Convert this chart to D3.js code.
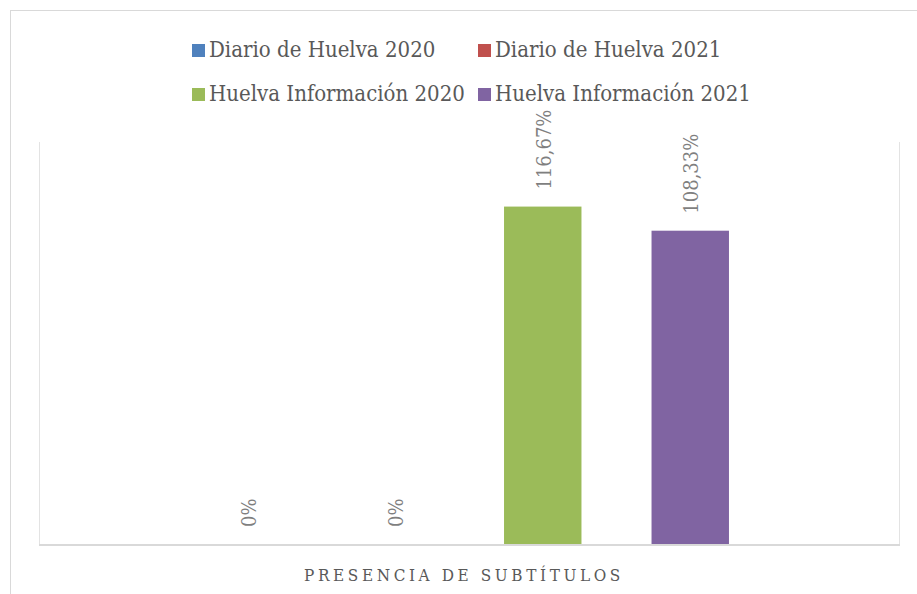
<!DOCTYPE html>
<html>
<head>
<meta charset="utf-8">
<script src="https://cdn.jsdelivr.net/npm/d3@7"></script>
<style>
  body { margin: 0; background: #fff; }
  text { font-family: "DejaVu Serif Condensed", "DejaVu Serif", serif; }
</style>
</head>
<body>
<div id="vis"></div>
<script>
var category = "PRESENCIA DE SUBTÍTULOS";
var series = ["Diario de Huelva 2020", "Diario de Huelva 2021", "Huelva Información 2020", "Huelva Información 2021"];
var values = [0, 0, 116.67, 108.33];
var labels = ["0%", "0%", "116,67%", "108,33%"];
var colors = ["#4F81BD", "#C0504D", "#9BBB59", "#8064A2"];

var width = 917, height = 594;
var margin = {top: 142, right: 18, bottom: 50, left: 39};

var svg = d3.select("#vis")
    .append("svg")
    .attr("width", width)
    .attr("height", height);

// outer chart frame
svg.append("rect")
    .attr("x", 10.5).attr("y", 10.5)
    .attr("width", width).attr("height", height)
    .attr("fill", "none")
    .attr("stroke", "#d9d9d9");

var x0 = d3.scaleBand()
    .domain([category])
    .range([margin.left, width - margin.right]);

var x1 = d3.scaleBand()
    .domain(series)
    .range([x0(category) + 135, x0(category) + x0.bandwidth() - 135])
    .paddingInner(0.475)
    .paddingOuter(0.2375);

var y = d3.scaleLinear()
    .domain([0, 139])
    .range([height - margin.bottom, margin.top]);

// plot frame
var g = svg.append("g");
g.append("line")
    .attr("x1", margin.left + 0.5).attr("x2", margin.left + 0.5)
    .attr("y1", margin.top).attr("y2", y(0))
    .attr("stroke", "#e3e3e3");
g.append("line")
    .attr("x1", width - margin.right + 0.5).attr("x2", width - margin.right + 0.5)
    .attr("y1", margin.top).attr("y2", y(0))
    .attr("stroke", "#e3e3e3");

g.selectAll("rect.bar")
    .data(values)
    .enter()
    .append("rect")
    .attr("class", "bar")
    .attr("x", function (d, i) { return x1(series[i]); })
    .attr("width", x1.bandwidth())
    .attr("y", function (d) { return y(d); })
    .attr("height", function (d) { return y(0) - y(d); })
    .attr("fill", function (d, i) { return colors[i]; });

// x axis line
g.append("line")
    .attr("x1", margin.left).attr("x2", width - margin.right + 1)
    .attr("y1", y(0) + 1).attr("y2", y(0) + 1)
    .attr("stroke", "#d9d9d9")
    .attr("stroke-width", 2);

// data labels, rotated
g.selectAll("text.lbl")
    .data(values)
    .enter()
    .append("text")
    .attr("class", "lbl")
    .attr("transform", function (d, i) {
        var cx = x1(series[i]) + x1.bandwidth() / 2 + 8;
        return "translate(" + cx + "," + (y(d) - 17) + ") rotate(-90)";
    })
    .attr("font-size", 20)
    .attr("fill", "#7f7f7f")
    .text(function (d, i) { return labels[i]; });

// category title
svg.append("text")
    .attr("x", x0(category) + x0.bandwidth() / 2 - 5)
    .attr("y", 581)
    .attr("text-anchor", "middle")
    .attr("font-size", 17)
    .attr("letter-spacing", 3.6)
    .attr("fill", "#595959")
    .text(category);

// legend
var legendPos = [[192, 57], [478, 57], [192, 101], [478, 101]];
var legend = svg.selectAll("g.legend")
    .data(series)
    .enter()
    .append("g")
    .attr("class", "legend")
    .attr("transform", function (d, i) {
        return "translate(" + legendPos[i][0] + "," + legendPos[i][1] + ")";
    });

legend.append("rect")
    .attr("x", 0).attr("y", -13)
    .attr("width", 13).attr("height", 13)
    .attr("fill", function (d, i) { return colors[i]; });

legend.append("text")
    .attr("x", 17)
    .attr("y", 0)
    .attr("font-size", 22)
    .attr("fill", "#595959")
    .text(function (d) { return d; });
</script>
</body>
</html>
